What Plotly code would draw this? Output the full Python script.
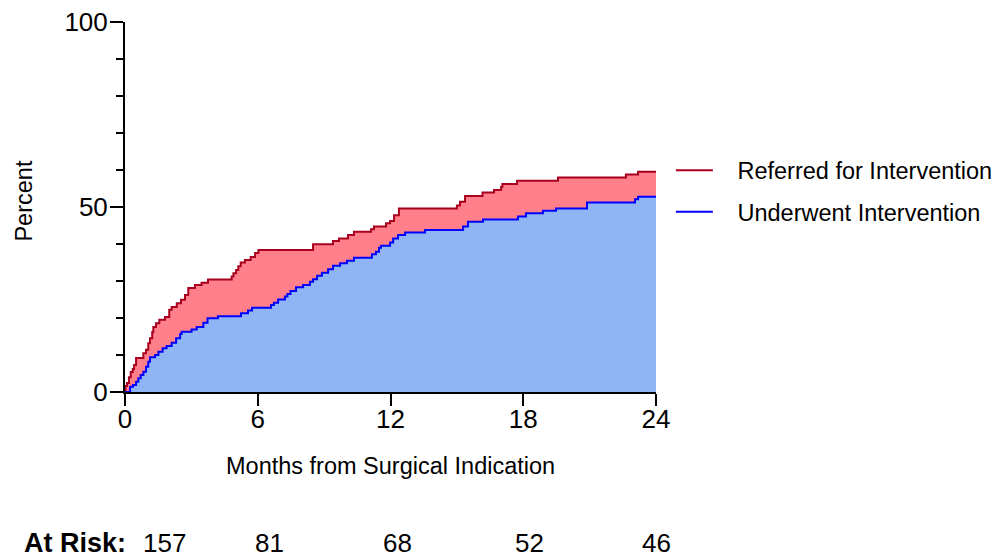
import plotly.graph_objects as go

# Cumulative percent over months since surgical indication (step curves)
referred_months = [0, 0.02, 0.09, 0.18, 0.26, 0.35, 0.41, 0.50, 0.83, 0.95, 1.05, 1.13,
                   1.23, 1.28, 1.40, 1.55, 1.81, 2.00, 2.11, 2.34, 2.53, 2.71, 2.86, 3.16,
                   3.46, 3.75, 4.82, 4.90, 5.02, 5.12, 5.23, 5.42, 5.68, 5.88, 6.03, 8.50,
                   9.40, 9.67, 10.08, 10.35, 11.12, 11.25, 11.80, 11.98, 12.16, 12.38,
                   15.00, 15.14, 15.37, 16.16, 16.68, 17.00, 17.06, 17.72, 19.57, 22.64,
                   23.19, 24.0]
referred_pct = [0, 1.6, 2.4, 4.0, 5.4, 6.2, 7.3, 9.2, 10.5, 11.4, 13.2, 14.5,
                16.2, 17.6, 18.6, 19.5, 20.3, 22.2, 23.0, 24.0, 24.9, 26.2, 28.1, 28.9,
                29.5, 30.4, 31.2, 32.1, 33.0, 34.0, 35.0, 35.7, 36.5, 37.6, 38.4, 39.9,
                40.8, 41.5, 42.4, 43.3, 44.0, 44.7, 45.6, 46.2, 47.8, 49.6,
                50.4, 51.4, 53.0, 53.9, 54.6, 55.5, 56.2, 57.1, 58.0, 58.8,
                59.5, 59.5]

underwent_months = [0, 0.23, 0.36, 0.50, 0.60, 0.71, 0.83, 0.95, 1.05, 1.13, 1.36, 1.51,
                    1.70, 1.88, 2.11, 2.31, 2.49, 2.56, 3.01, 3.24, 3.54, 3.73, 4.20, 5.24,
                    5.56, 5.74, 6.60, 6.73, 6.92, 7.23, 7.34, 7.48, 7.73, 8.05, 8.36, 8.50,
                    8.68, 8.90, 9.18, 9.40, 9.72, 10.03, 10.35, 11.16, 11.34, 11.48, 11.57,
                    11.98, 12.12, 12.34, 12.66, 13.56, 15.28, 15.50, 16.18, 17.76, 18.12,
                    18.89, 19.48, 20.88, 23.05, 23.19, 24.0]
underwent_pct = [0, 1.4, 1.9, 2.8, 3.7, 4.6, 5.5, 6.8, 8.2, 9.4, 10.0, 10.9,
                 11.8, 12.4, 13.3, 14.5, 15.7, 16.3, 16.9, 17.6, 18.7, 19.9, 20.5, 21.3,
                 22.0, 22.8, 23.5, 24.1, 25.0, 25.8, 26.5, 27.3, 28.3, 28.9, 29.8, 30.5,
                 31.4, 32.2, 33.2, 34.1, 34.8, 35.5, 36.3, 37.2, 37.9, 39.0, 39.5,
                 40.4, 41.5, 42.4, 43.1, 43.8, 44.7, 46.0, 46.6, 47.4, 48.3,
                 49.0, 49.6, 51.2, 52.1, 52.8, 52.8]

risk_months = [0, 6, 12, 18, 24]
at_risk = [157, 81, 68, 52, 46]

FONT = "Liberation Sans, Arial, sans-serif"
RED_LINE = "#A8001E"
RED_FILL = "rgb(255,127,138)"
BLUE_LINE = "#0000FF"
BLUE_FILL = "rgb(143,181,245)"
PAD = "\u00a0\u00a0\u00a0"  # extra room between legend swatch and label

fig = go.Figure()

# Filled areas: blue down to zero, red between the two curves
fig.add_trace(go.Scatter(x=underwent_months, y=underwent_pct, mode="lines",
                         line=dict(shape="hv", width=0, color=BLUE_FILL),
                         fill="tozeroy", fillcolor=BLUE_FILL,
                         showlegend=False, hoverinfo="skip"))
fig.add_trace(go.Scatter(x=referred_months, y=referred_pct, mode="lines",
                         line=dict(shape="hv", width=0, color=RED_FILL),
                         fill="tonexty", fillcolor=RED_FILL,
                         showlegend=False, hoverinfo="skip"))

# Step outlines on top
fig.add_trace(go.Scatter(x=referred_months, y=referred_pct, mode="lines",
                         name=PAD + "Referred for Intervention",
                         line=dict(shape="hv", width=2, color=RED_LINE),
                         legendgroup="a"))
fig.add_trace(go.Scatter(x=underwent_months, y=underwent_pct, mode="lines",
                         name=PAD + "Underwent Intervention",
                         line=dict(shape="hv", width=2, color=BLUE_LINE),
                         legendgroup="b"))

fig.update_layout(
    width=1002, height=560,
    margin=dict(l=125, r=346, t=22, b=168, autoexpand=False),
    paper_bgcolor="white", plot_bgcolor="white",
    font=dict(family=FONT, size=23, color="black"),
    showlegend=True,
    legend=dict(x=1.028, y=0.658, xanchor="left", yanchor="top",
                font=dict(size=23.5), traceorder="grouped", tracegroupgap=8,
                itemwidth=37, bgcolor="rgba(0,0,0,0)"),
)

fig.update_xaxes(range=[0, 24], tickvals=[0, 6, 12, 18, 24],
                 showline=True, linecolor="black", linewidth=2,
                 ticks="outside", ticklen=12, tickwidth=2, tickcolor="black",
                 showgrid=False, zeroline=False, ticklabelstandoff=-9,
                 tickfont=dict(size=26))
fig.update_yaxes(range=[0, 100], tickvals=[0, 50, 100],
                 showline=True, linecolor="black", linewidth=2,
                 ticks="outside", ticklen=13, tickwidth=2, tickcolor="black",
                 minor=dict(tickvals=[10, 20, 30, 40, 60, 70, 80, 90], ticks="outside",
                            ticklen=7, tickwidth=2, tickcolor="black"),
                 showgrid=False, zeroline=False, ticklabelstandoff=-3,
                 tickfont=dict(size=26))

# Axis titles
fig.add_annotation(text="Months from Surgical Indication", xref="paper", yref="paper",
                   x=0.5, y=-0.2, xanchor="center", yanchor="middle",
                   showarrow=False, font=dict(size=23.5))
fig.add_annotation(text="Percent", xref="paper", yref="paper",
                   x=-0.19, y=0.515, xanchor="center", yanchor="middle",
                   textangle=-90, showarrow=False, font=dict(size=23.5))

# Number at risk row
fig.add_annotation(text="<b>At Risk:</b>", xref="paper", yref="paper",
                   x=0.006, y=-0.408, xanchor="right", yanchor="middle",
                   showarrow=False, font=dict(size=27))
risk_shift = [39, 12, 7, 6, 0]
for m, n, dx in zip(risk_months, at_risk, risk_shift):
    fig.add_annotation(text=str(n), x=m, xref="x", y=-0.408, yref="paper",
                       xanchor="center", yanchor="middle", xshift=dx,
                       showarrow=False, font=dict(size=26))

fig.write_html("out.html")
